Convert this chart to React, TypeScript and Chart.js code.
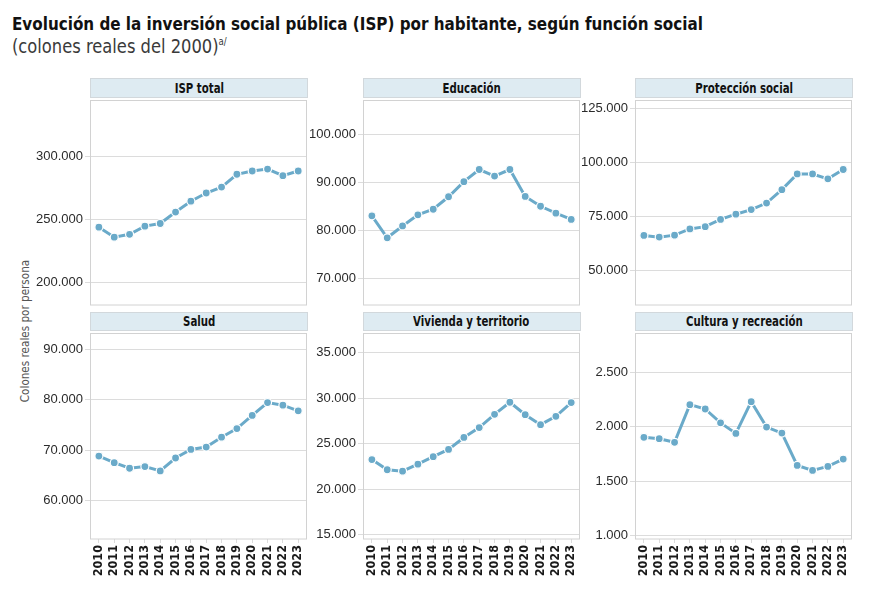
import { useEffect, useRef } from "react";
import { Chart, registerables } from "chart.js";

Chart.register(...registerables);

// Años de la serie
const years = [2010, 2011, 2012, 2013, 2014, 2015, 2016, 2017, 2018, 2019, 2020, 2021, 2022, 2023];

// Colones reales del 2000 por persona, según función social
const ispTotal = [243700, 235700, 238000, 244500, 246600, 255700, 264300, 270800, 275500, 285700, 288300, 289800, 284600, 288300];
const educacion = [83080, 78490, 80960, 83290, 84450, 87050, 90200, 92740, 91370, 92740, 87120, 85070, 83630, 82330];
const proteccionSocial = [66240, 65480, 66390, 69260, 70320, 73640, 76060, 78170, 81190, 87380, 94630, 94630, 92360, 96680];
const salud = [68820, 67510, 66400, 66730, 65880, 68430, 70130, 70590, 72550, 74250, 76860, 79410, 78890, 77780];
const vivienda = [23260, 22140, 21990, 22750, 23580, 24380, 25690, 26780, 28230, 29560, 28190, 27100, 28010, 29530];
const cultura = [1903, 1890, 1857, 2204, 2164, 2036, 1939, 2231, 1997, 1942, 1644, 1598, 1635, 1702];

// Marcas del eje vertical de cada panel
const ispTotalTicks = [200000, 250000, 300000];
const educacionTicks = [70000, 80000, 90000, 100000];
const proteccionTicks = [50000, 75000, 100000, 125000];
const saludTicks = [60000, 70000, 80000, 90000];
const viviendaTicks = [15000, 20000, 25000, 30000, 35000];
const culturaTicks = [1000, 1500, 2000, 2500];

const panelTitles = [
  "ISP total",
  "Educación",
  "Protección social",
  "Salud",
  "Vivienda y territorio",
  "Cultura y recreación",
];

const LINE = "#6aaac9";
const GRID = "#dcdcdc";
const FRAME = "#d2d2d2";
const NARROW = '"DejaVu Sans Condensed", "Liberation Sans", sans-serif';
const SANS = '"Liberation Sans", Arial, sans-serif';

// Geometría de la cuadrícula de paneles
const PLOT_LEFT = [90, 362.5, 635];
const PLOT_W = 218;
const ROW_HEADER_TOP = [78, 311.5];
const ROW_PLOT_TOP = [99, 332];
const ROW_PLOT_BOTTOM = [306, 539];
const LABEL_W = 86;

type Panel = {
  title: string;
  values: number[];
  ticks: number[];
  min: number;
  max: number;
  col: number;
  row: number;
};

const panels: Panel[] = [
  { title: panelTitles[0], values: ispTotal, ticks: ispTotalTicks, min: 182000, max: 343750, col: 0, row: 0 },
  { title: panelTitles[1], values: educacion, ticks: educacionTicks, min: 64500, max: 107000, col: 1, row: 0 },
  { title: panelTitles[2], values: proteccionSocial, ticks: proteccionTicks, min: 34250, max: 128200, col: 2, row: 0 },
  { title: panelTitles[3], values: salud, ticks: saludTicks, min: 52400, max: 92940, col: 0, row: 1 },
  { title: panelTitles[4], values: vivienda, ticks: viviendaTicks, min: 14530, max: 37040, col: 1, row: 1 },
  { title: panelTitles[5], values: cultura, ticks: culturaTicks, min: 966, max: 2853, col: 2, row: 1 },
];

const fmt = (v: number) => String(Math.round(v)).replace(/\B(?=(\d{3})+(?!\d))/g, ".");

const framePlugin = {
  id: "panelFrame",
  beforeDatasetsDraw(chart: any) {
    const { ctx, chartArea } = chart;
    ctx.save();
    ctx.strokeStyle = FRAME;
    ctx.lineWidth = 1;
    ctx.strokeRect(
      Math.round(chartArea.left) + 0.5,
      Math.round(chartArea.top) - 0.5,
      Math.round(chartArea.right - chartArea.left) - 1,
      Math.round(chartArea.bottom - chartArea.top) + 0.5
    );
    ctx.restore();
  },
};

const noEdgePadding = (s: any) => {
  s.paddingTop = 0;
  s.paddingBottom = 0;
  s.paddingLeft = 0;
  s.paddingRight = 0;
};

function PanelChart({ panel }: { panel: Panel }) {
  const ref = useRef<HTMLCanvasElement | null>(null);
  const bottomRow = panel.row === 1;
  const plotTop = ROW_PLOT_TOP[panel.row];
  const plotH = ROW_PLOT_BOTTOM[panel.row] - plotTop;
  const padTop = 3;
  const xAxisH = bottomRow ? 44 : 0;
  const padBottom = bottomRow ? 0 : 4;
  const width = LABEL_W + PLOT_W + 4;
  const height = padTop + plotH + xAxisH + padBottom;

  useEffect(() => {
    if (!ref.current) return;
    const chart = new Chart(ref.current, {
      type: "line",
      data: {
        datasets: [
          {
            data: years.map((y, i) => ({ x: y, y: panel.values[i] })),
            borderColor: LINE,
            borderWidth: 3,
            pointRadius: 4,
            pointBackgroundColor: LINE,
            pointBorderColor: "#ffffff",
            pointBorderWidth: 1.2,
            tension: 0,
            clip: false as any,
          },
        ],
      },
      options: {
        animation: false,
        responsive: false,
        events: [],
        layout: { padding: { left: 0, right: 4, top: padTop, bottom: padBottom } },
        plugins: { legend: { display: false }, tooltip: { enabled: false } },
        scales: {
          x: {
            type: "linear",
            display: bottomRow,
            min: 2009.42,
            max: 2023.56,
            grid: { display: true, drawOnChartArea: false, drawTicks: true, tickLength: 4, color: GRID },
            border: { display: false },
            afterBuildTicks: (s: any) => {
              s.ticks = years.map((v) => ({ value: v }));
            },
            afterFit: (s: any) => {
              s.height = xAxisH;
              noEdgePadding(s);
            },
            ticks: {
              autoSkip: false,
              minRotation: 90,
              maxRotation: 90,
              padding: 2,
              color: "#1a1a1a",
              font: { family: NARROW, size: 12.5, weight: "bold" },
              callback: (v: any) => String(v),
            },
          },
          y: {
            type: "linear",
            min: panel.min,
            max: panel.max,
            border: { display: false },
            grid: { color: GRID, lineWidth: 1, drawTicks: true, tickLength: 5 },
            afterBuildTicks: (s: any) => {
              s.ticks = panel.ticks.map((v) => ({ value: v }));
            },
            afterFit: (s: any) => {
              s.width = LABEL_W;
              noEdgePadding(s);
            },
            ticks: {
              padding: 2,
              color: "#2b2b2b",
              font: { family: SANS, size: 13 },
              callback: (v: any) => fmt(Number(v)),
            },
          },
        },
      },
      plugins: [framePlugin],
    } as any);
    return () => chart.destroy();
  }, []);

  return (
    <canvas
      ref={ref}
      width={width}
      height={height}
      style={{
        position: "absolute",
        left: PLOT_LEFT[panel.col] - LABEL_W,
        top: plotTop - padTop,
        width,
        height,
      }}
    />
  );
}

export default function App() {
  return (
    <div style={{ position: "absolute", left: 0, top: 0, width: 896, height: 591, background: "#fff", overflow: "hidden" }}>
      <div
        style={{
          position: "absolute",
          left: 12,
          top: 13,
          font: `bold 18.5px ${NARROW}`,
          color: "#111",
          whiteSpace: "nowrap",
          transform: "scaleX(0.912)",
          transformOrigin: "0 0",
        }}
      >
        Evolución de la inversión social pública (ISP) por habitante, según función social
      </div>
      <div
        style={{
          position: "absolute",
          left: 12,
          top: 35,
          font: `19px ${NARROW}`,
          color: "#3a3a3a",
          whiteSpace: "nowrap",
          transform: "scaleX(0.955)",
          transformOrigin: "0 0",
        }}
      >
        (colones reales del 2000)<sup style={{ fontSize: 10, verticalAlign: "top", position: "relative", top: 1 }}>a/</sup>
      </div>
      <div
        style={{
          position: "absolute",
          left: 25,
          top: 331,
          transform: "translate(-50%, -50%) rotate(-90deg)",
          font: `11.6px ${NARROW}`,
          color: "#555",
          whiteSpace: "nowrap",
        }}
      >
        Colones reales por persona
      </div>
      {panels.map((p) => (
        <div
          key={"h" + p.title}
          style={{
            position: "absolute",
            left: PLOT_LEFT[p.col],
            top: ROW_HEADER_TOP[p.row],
            width: PLOT_W - 2,
            height: ROW_PLOT_TOP[p.row] - ROW_HEADER_TOP[p.row] - 3,
            background: "#deebf2",
            border: "1px solid #d2d8dc",
            color: "#111",
            display: "flex",
            alignItems: "center",
            justifyContent: "center",
          }}
        >
          <span style={{ font: `bold 13.5px ${NARROW}`, display: "inline-block", transform: "scaleX(0.84)", whiteSpace: "nowrap" }}>
            {p.title}
          </span>
        </div>
      ))}
      {panels.map((p) => (
        <PanelChart key={p.title} panel={p} />
      ))}
    </div>
  );
}
